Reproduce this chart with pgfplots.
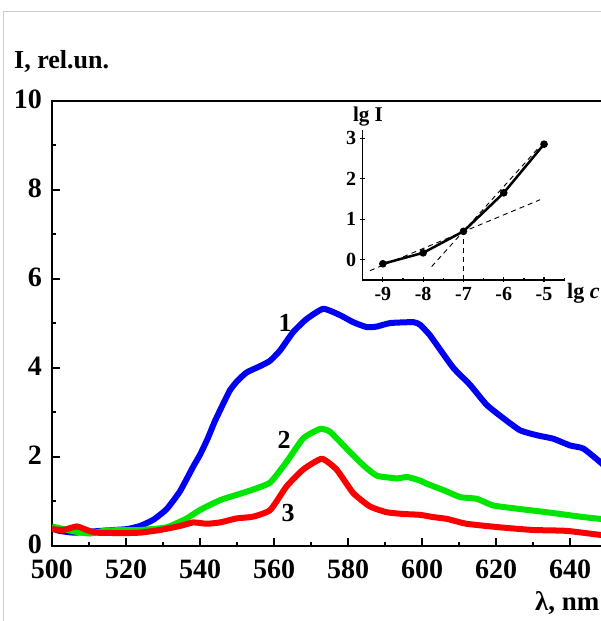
\documentclass[border=0pt]{standalone}
\usepackage{fontspec}
\setmainfont{Liberation Serif}
\usepackage{pgfplots}
\pgfplotsset{compat=1.18}
\definecolor{cblue}{RGB}{0,0,245}
\definecolor{cgreen}{RGB}{0,230,0}
\definecolor{cred}{RGB}{250,0,0}
\begin{document}
\begin{tikzpicture}
\path[use as bounding box, clip] (-52pt,-75pt) rectangle (549pt,546pt);
\fill[white] (-52pt,-75pt) rectangle (549pt,546pt);
\draw[black!20, line width=1pt] (-48pt,-80pt) -- (-48pt,534pt) -- (560pt,534pt);
\begin{axis}[
  at={(0pt,0pt)}, anchor=south west,
  scale only axis, width=555pt, height=445pt,
  xmin=500, xmax=650, ymin=0, ymax=10,
  xtick={500,520,...,640}, minor xtick={510,530,...,650},
  ytick={0,2,...,10}, minor ytick={1,3,...,9},
  xtick pos=bottom, ytick pos=left,
  major tick length=8pt, minor tick length=4pt,
  every tick/.style={black, line width=2pt},
  axis line style={line width=2.5pt},
  /pgf/number format/assume math mode=true,
  tick label style={font=\fontsize{28}{28}\selectfont\bfseries},
  xticklabel style={inner sep=0pt, yshift=-14pt},
  yticklabel style={inner sep=0pt, xshift=-10pt, yshift=2pt},
  clip=true,
]
\addplot[cblue, line width=6pt, line join=round, smooth, tension=0.3] coordinates {
(500,0.40) (502,0.34) (505.8,0.30) (510,0.32) (514.8,0.35) (520.2,0.38) (523.8,0.45) (527.4,0.59) (531,0.83) (534.6,1.23) (538.2,1.79) (540,2.05) (542,2.4) (544,2.8) (546,3.15) (548.1,3.5) (550,3.7) (552.6,3.9) (556.2,4.04) (558.9,4.16) (561.6,4.39) (565.2,4.81) (568.8,5.1) (573.3,5.33) (577.8,5.19) (581.4,5.03) (585,4.92) (587.7,4.93) (591.4,5.01) (597.7,5.03) (599.5,4.97) (602,4.75) (604,4.52) (608.5,4.0) (613,3.62) (617.5,3.17) (622,2.87) (626.5,2.6) (631,2.49) (635.5,2.41) (640,2.26) (643.6,2.19) (648.1,1.89) (650,1.75)};
\addplot[cgreen, line width=6pt, line join=round, smooth, tension=0.3] coordinates {
(500,0.44) (505.8,0.33) (510.3,0.28) (514.8,0.35) (523.8,0.36) (531,0.42) (536.4,0.62) (540,0.81) (545.4,1.03) (549.9,1.15) (554.4,1.27) (559,1.43) (563.4,1.89) (567.9,2.42) (572.4,2.63) (575.1,2.57) (579.6,2.19) (584.2,1.81) (587.8,1.58) (593.2,1.52) (596,1.55) (599.5,1.47) (601.3,1.40) (606,1.25) (610.3,1.10) (614.8,1.06) (619.3,0.91) (625.6,0.84) (634.6,0.75) (643.6,0.65) (648.1,0.61) (650,0.59)};
\addplot[cred, line width=6pt, line join=round, smooth, tension=0.3] coordinates {
(500,0.38) (503,0.36) (506.7,0.44) (509.4,0.36) (512,0.30) (519.3,0.29) (523.8,0.30) (529.2,0.36) (534.6,0.45) (538.2,0.53) (541.8,0.50) (545.4,0.53) (549.9,0.62) (554.4,0.66) (559,0.81) (563.4,1.34) (567.9,1.72) (572.9,1.96) (576.9,1.72) (581.4,1.19) (585.9,0.89) (590.4,0.76) (594.9,0.72) (599.5,0.70) (603,0.65) (606.7,0.61) (612,0.50) (621,0.42) (630,0.36) (639.1,0.34) (648.1,0.25) (650,0.24)};
\end{axis}
\begin{axis}[
  at={(310.7pt,266pt)}, anchor=south west,
  scale only axis, width=201.5pt, height=150pt,
  xmin=-9.5, xmax=-4.5, ymin=-0.5, ymax=3.2,
  axis x line=bottom, axis y line=left,
  axis line style={line width=1.5pt, -},
  xtick={-9,-8,...,-5}, minor xtick={-9.5,-8.5,...,-4.5},
  ytick={0,1,2,3},
  major tick length=5pt, minor tick length=3pt,
  every tick/.style={black, line width=1.2pt},
  /pgf/number format/assume math mode=true,
  tick label style={font=\fontsize{20}{20}\selectfont\bfseries},
  xticklabel style={inner sep=1pt, yshift=-4pt},
  yticklabel style={inner sep=1pt, xshift=-3pt},
  clip=false,
]
\addplot[black, line width=0.9pt, dash pattern=on 5pt off 4pt] coordinates {(-9.32,-0.27) (-5.1,1.48)};
\addplot[black, line width=0.9pt, dash pattern=on 5pt off 4pt] coordinates {(-7.79,-0.17) (-5.1,2.8)};
\addplot[black, line width=0.9pt, dash pattern=on 5pt off 4pt] coordinates {(-7,-0.5) (-7,0.7)};
\addplot[black, line width=2.5pt, mark=*, mark size=2.5pt] coordinates {(-9,-0.1) (-8,0.17) (-7,0.7) (-6,1.65) (-5,2.85)};
\end{axis}
\node[anchor=west, font=\fontsize{26}{26}\selectfont\bfseries, inner sep=0pt] at (-38pt,485pt) {I, rel.un.};
\node[anchor=west, font=\fontsize{27}{27}\selectfont\bfseries, inner sep=0pt] at (483pt,-57pt) {λ, nm};
\node[font=\fontsize{26}{26}\selectfont\bfseries, inner sep=0pt] at (233pt,223pt) {1};
\node[font=\fontsize{26}{26}\selectfont\bfseries, inner sep=0pt] at (232pt,106pt) {2};
\node[font=\fontsize{26}{26}\selectfont\bfseries, inner sep=0pt] at (236pt,33pt) {3};
\node[font=\fontsize{21}{21}\selectfont\bfseries, inner sep=0pt] at (316pt,429pt) {lg I};
\node[anchor=west, font=\fontsize{22}{22}\selectfont\bfseries, inner sep=0pt] at (515pt,253pt) {lg \textit{c}};
\end{tikzpicture}
\end{document}
